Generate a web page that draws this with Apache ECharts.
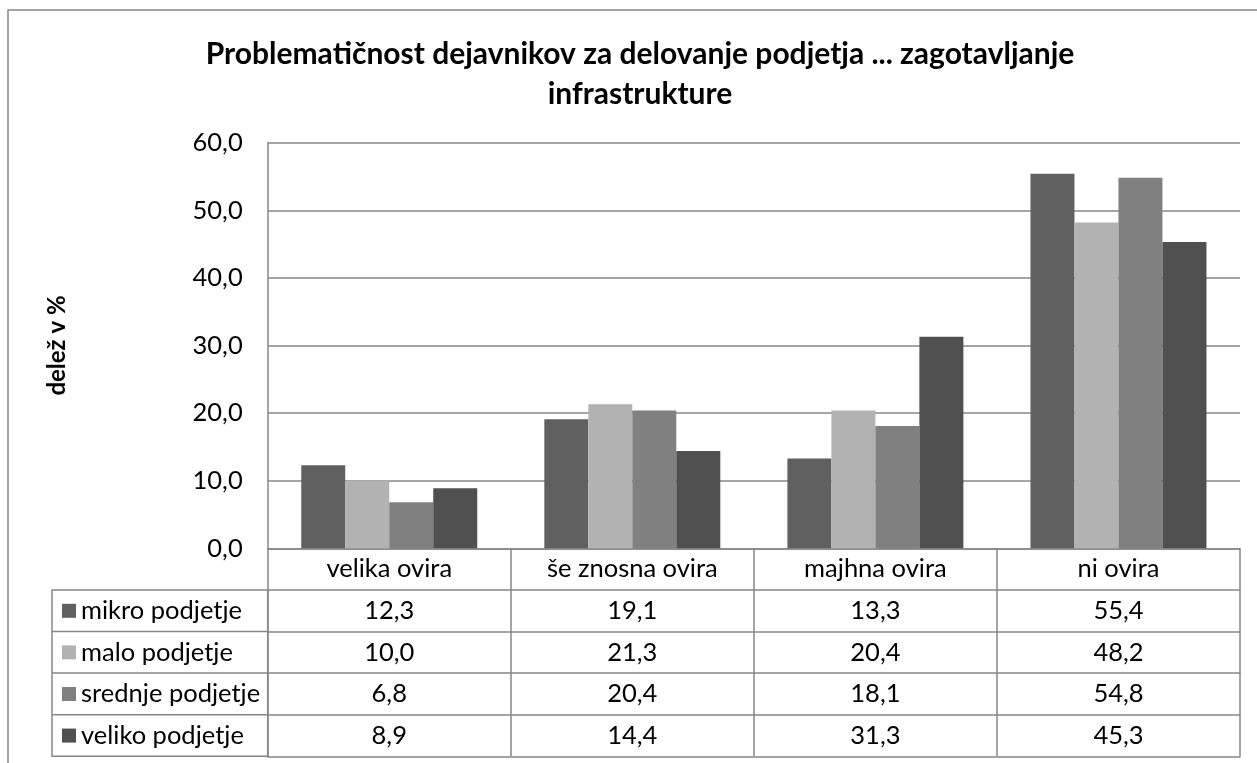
<!DOCTYPE html>
<html>
<head>
<meta charset="utf-8">
<script src="https://cdn.jsdelivr.net/npm/echarts@6/dist/echarts.min.js"></script>
<style>
html,body{margin:0;padding:0;background:#fff;}
#main{width:1257px;height:763px;}
</style>
</head>
<body>
<div id="main"></div>
<script>
const titleText = 'Problematičnost dejavnikov za delovanje podjetja ... zagotavljanje\ninfrastrukture';
const yAxisName = 'delež v %';
const categories = ['velika ovira', 'še znosna ovira', 'majhna ovira', 'ni ovira'];
const seriesNames = ['mikro podjetje', 'malo podjetje', 'srednje podjetje', 'veliko podjetje'];
const mikro = [12.3, 19.1, 13.3, 55.4];
const malo = [10.0, 21.3, 20.4, 48.2];
const srednje = [6.8, 20.4, 18.1, 54.8];
const veliko = [8.9, 14.4, 31.3, 45.3];
const seriesValues = [mikro, malo, srednje, veliko];
const colors = ['#606060', '#b2b2b2', '#808080', '#505050'];

const FONT = 'Lato';
const FS = 25.5;
const lineCol = '#878787';
const rowH = 41.6;
const fmt = v => Number(v).toFixed(1).replace('.', ',');

const chart = echarts.init(document.getElementById('main'));

const xAxes = [{
  type: 'category', data: categories, gridIndex: 0, position: 'bottom',
  axisLine: { show: true, lineStyle: { color: lineCol, width: 1.5 } },
  axisTick: { show: true, interval: 0, length: rowH, lineStyle: { color: lineCol, width: 1.5 } },
  axisLabel: { interval: 0, color: '#000', fontFamily: FONT, fontSize: FS, verticalAlign: 'middle', margin: rowH / 2 }
}];
seriesValues.forEach((vals, k) => {
  xAxes.push({
    type: 'category', data: categories, gridIndex: 0, position: 'bottom', offset: rowH * (k + 1),
    axisLine: { show: true, lineStyle: { color: lineCol, width: 1.5 } },
    axisTick: { show: true, interval: 0, length: rowH, lineStyle: { color: lineCol, width: 1.5 } },
    axisLabel: { interval: 0, color: '#000', fontFamily: FONT, fontSize: FS, verticalAlign: 'middle', margin: rowH / 2,
      formatter: (v, i) => fmt(vals[i]) }
  });
});
xAxes.push({
  type: 'category', data: categories, gridIndex: 0, position: 'bottom', offset: rowH * 5,
  axisLine: { show: true, lineStyle: { color: lineCol, width: 1.5 } },
  axisTick: { show: false }, axisLabel: { show: false }
});

const option = {
  backgroundColor: '#fff',
  animation: false,
  title: {
    text: titleText, left: 640, textAlign: 'center', top: 34, padding: 0,
    textStyle: { fontFamily: FONT, fontWeight: 'bold', fontSize: 30, lineHeight: 40, color: '#000' }
  },
  grid: { left: 267.7, right: 17, top: 142.7, bottom: 214.7 },
  legend: {
    orient: 'vertical', left: 62, top: 590, padding: 0, itemGap: 0,
    itemWidth: 14, itemHeight: 14, icon: 'rect',
    data: seriesNames,
    textStyle: { fontFamily: FONT, fontSize: FS, lineHeight: rowH, color: '#000' }
  },
  xAxis: xAxes,
  yAxis: {
    type: 'value', min: 0, max: 60, interval: 10,
    name: yAxisName, nameLocation: 'middle', nameGap: 198,
    nameTextStyle: { fontFamily: FONT, fontWeight: 'bold', fontSize: 24, color: '#000' },
    axisLine: { show: true, lineStyle: { color: lineCol, width: 1.5 } },
    axisTick: { show: false },
    axisLabel: { color: '#000', fontFamily: FONT, fontSize: FS, margin: 25, formatter: v => fmt(v) },
    splitLine: { show: true, lineStyle: { color: lineCol, width: 1.5 } }
  },
  series: seriesNames.map((n, i) => ({
    name: n, type: 'bar', xAxisIndex: 0, data: seriesValues[i],
    barGap: 0, barCategoryGap: '27.6%',
    itemStyle: { color: colors[i] }
  })),
  graphic: [
    { type: 'rect', shape: { x: 8, y: 10, width: 1300, height: 800 }, style: { fill: 'none', stroke: lineCol, lineWidth: 1.5 }, silent: true },
    { type: 'rect', shape: { x: 52, y: 548.3 + rowH, width: 215.7, height: rowH * 4 }, style: { fill: 'none', stroke: lineCol, lineWidth: 1.5 }, silent: true },
    { type: 'line', shape: { x1: 52, y1: 548.3 + rowH * 2, x2: 267.7, y2: 548.3 + rowH * 2 }, style: { stroke: lineCol, lineWidth: 1.5 }, silent: true },
    { type: 'line', shape: { x1: 52, y1: 548.3 + rowH * 3, x2: 267.7, y2: 548.3 + rowH * 3 }, style: { stroke: lineCol, lineWidth: 1.5 }, silent: true },
    { type: 'line', shape: { x1: 52, y1: 548.3 + rowH * 4, x2: 267.7, y2: 548.3 + rowH * 4 }, style: { stroke: lineCol, lineWidth: 1.5 }, silent: true }
  ]
};
chart.setOption(option);
</script>
</body>
</html>
